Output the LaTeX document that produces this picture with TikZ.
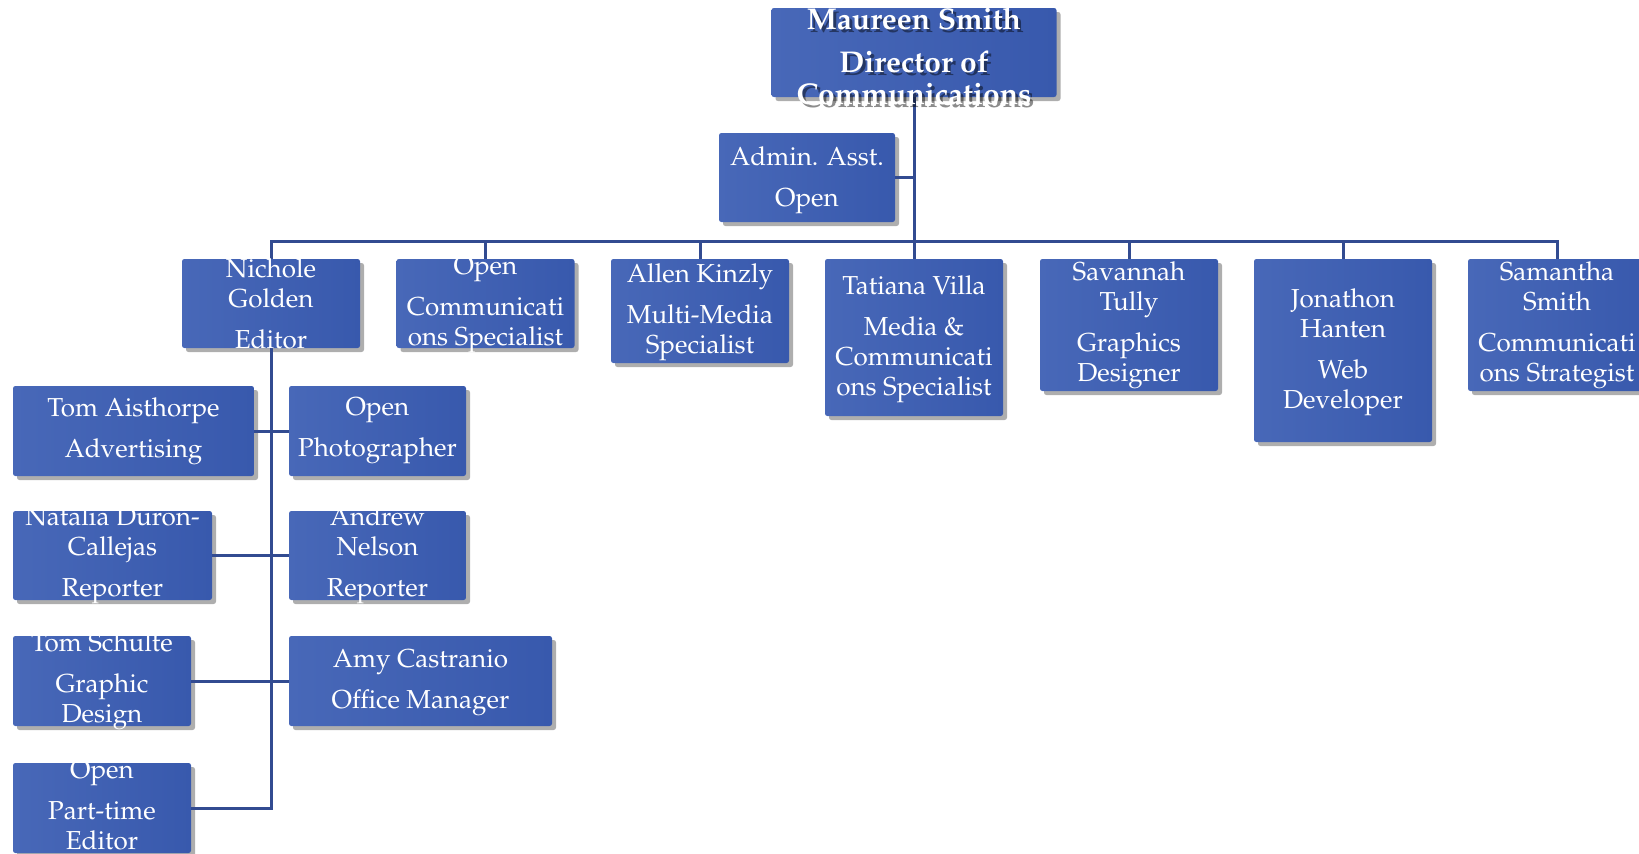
\documentclass[tikz,border=0pt]{standalone}
\usepackage[T1]{fontenc}
\usepackage{mathpazo}
\usepackage{tikz}
\usetikzlibrary{shadows}

\definecolor{boxblue}{RGB}{56,89,173}
\definecolor{boxlight}{RGB}{72,104,184}
\definecolor{linkblue}{RGB}{50,75,145}

\begin{document}
\begin{tikzpicture}[x=0.5pt,y=-0.5pt,
		box/.style={rectangle,rounded corners=1.2pt,left color=boxlight,right color=boxblue,inner sep=0pt,
			drop shadow={shadow xshift=2pt,shadow yshift=-2pt,opacity=0.45,fill=black!70}},
		boxsize/.style 2 args={minimum width=#1*0.5pt,minimum height=#2*0.5pt},
		txt/.style={text=white,align=center,inner sep=0pt,font=\fontsize{13}{15}\selectfont},
		conn/.style={draw=linkblue,line width=1.5pt}]
				\useasboundingbox (0,0) rectangle (1639,853);
				\def\gap{\\[5.5pt]}     %space between name and job title
				
				% Director and assistant
				\node[box,boxsize={285}{89}] (director) at (914,52.5) {};
				\node[box,boxsize={176}{89}] (admin) at (807,177.5) {};
				
				% Second row, top edges at y=259
				\node[box,boxsize={178}{89}] (nichole) at (271,303.5) {};
				\node[box,boxsize={178}{89}] (opencomm) at (485.5,303.5) {};
				\node[box,boxsize={178}{104}] (allen) at (700,311) {};
				\node[box,boxsize={178}{157}] (tatiana) at (914,337.5) {};
				\node[box,boxsize={178}{132}] (savannah) at (1129,325) {};
				\node[box,boxsize={178}{183}] (jonathon) at (1343,350.5) {};
				\node[box,boxsize={178}{132}] (samantha) at (1557,325) {};
				
				% Editor's staff
				\node[box,boxsize={241}{90}] (tomA) at (133.5,431) {};
				\node[box,boxsize={177}{90}] (photo) at (377.5,431) {};
				\node[box,boxsize={199}{89}] (natalia) at (112.5,555.5) {};
				\node[box,boxsize={177}{89}] (andrew) at (377.5,555.5) {};
				\node[box,boxsize={178}{90}] (tomS) at (102,681) {};
				\node[box,boxsize={263}{90}] (amy) at (420.5,681) {};
				\node[box,boxsize={178}{90}] (parttime) at (102,808) {};
				
				% Connectors
				\coordinate (bus) at (0,241);
				\draw[conn] (director.south) -- (tatiana.north);
				\draw[conn] (admin.east) -- (admin.east -| director.south);
				\draw[conn] (nichole.north) |- (bus -| samantha.north) -- (samantha.north);
				\foreach \n in {opencomm,allen,savannah,jonathon}
					\draw[conn] (\n.north) -- (\n.north |- bus);
				\draw[conn] (nichole.south) -- (nichole.south |- parttime.east) -- (parttime.east);
				\draw[conn] (tomA) -- (photo);
				\draw[conn] (natalia) -- (andrew);
				\draw[conn] (tomS) -- (amy);
				
				% Texts
				\node[txt,text=black,opacity=0.45,font=\fontsize{15}{16}\selectfont\bfseries,xshift=1.5pt,yshift=-1.5pt] (directorS) at (914,56) {Maureen Smith\gap Director of\\Communications};
				\node[txt,font=\fontsize{15}{16}\selectfont\bfseries] (directorT) at (914,56) {Maureen Smith\gap Director of\\Communications};
				\node[txt] (adminT) at (807,180) {Admin. Asst.\gap Open};
				\node[txt] (nicholeT) at (nichole) {Nichole\\Golden\gap Editor};
				\node[txt] (opencommT) at (485.5,305) {Open\gap Communicati\\ons Specialist};
				\node[txt] (allenT) at (700,312.5) {Allen Kinzly\gap Multi-Media\\Specialist};
				\node[txt] (tatianaT) at (914,339) {Tatiana Villa\gap Media \&\\Communicati\\ons Specialist};
				\node[txt] (savannahT) at (savannah) {Savannah\\Tully\gap Graphics\\Designer};
				\node[txt] (jonathonT) at (1343,352) {Jonathon\\Hanten\gap Web\\Developer};
				\node[txt] (samanthaT) at (samantha) {Samantha\\Smith\gap Communicati\\ons Strategist};
				\node[txt] (tomAT) at (tomA) {Tom Aisthorpe\gap Advertising};
				\node[txt] (photoT) at (photo) {Open\gap Photographer};
				\node[txt] (nataliaT) at (natalia) {Natalia Duron-\\Callejas\gap Reporter};
				\node[txt] (andrewT) at (andrew) {Andrew\\Nelson\gap Reporter};
				\node[txt] (tomST) at (tomS) {Tom Schulte\gap Graphic\\Design};
				\node[txt] (amyT) at (420.5,683) {Amy Castranio\gap Office Manager};
				\node[txt] (parttimeT) at (102,805) {Open\gap Part-time\\Editor};
				
\end{tikzpicture}
\end{document}
